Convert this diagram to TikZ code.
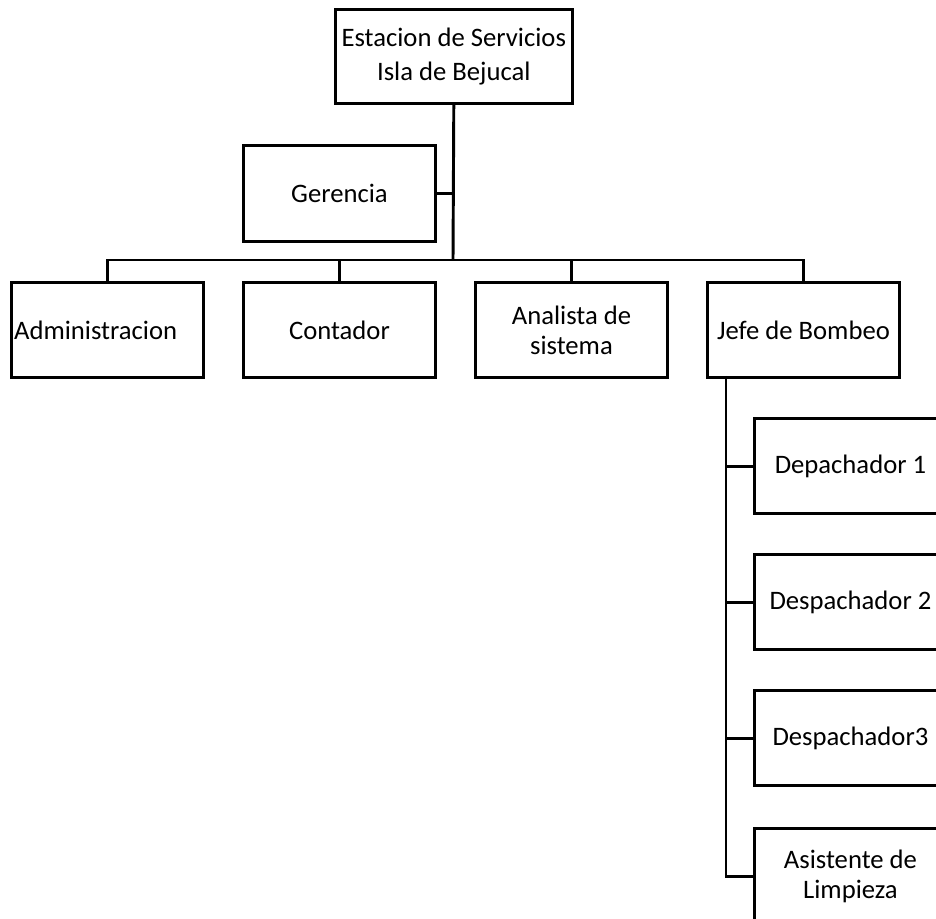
\documentclass[tikz,border=0pt]{standalone}
\usepackage{fontspec}
\setmainfont{Carlito}
\begin{document}
\begin{tikzpicture}[
    x=0.75pt, y=-0.75pt,
    font=\fontsize{20}{22.5}\selectfont,
    unit/.style={draw, line width=2.2pt, minimum width=144pt, minimum height=71.5pt,
      inner sep=2pt, align=center, anchor=north west},
    link/.style={line width=2.2pt}
  ]
  \useasboundingbox (0,0) rectangle (936,919);
  \clip (0,0) rectangle (936,919);
  % top of the chart
  \node [unit, minimum width=177.5pt, minimum height=70.5pt,
    font=\fontsize{20}{26}\selectfont] (est) at (334,8) {Estacion de Servicios\\Isla de Bejucal};
  \node [unit, minimum height=72pt] (ger) at (242,144) {Gerencia};
  % second row
  \node [unit, align=left, text width=140pt] (adm) at (10,281) {Administracion};
  \node [unit] (cont) at (242,281) {Contador};
  \node [unit] (anal) at (474,281) {Analista de\\sistema};
  \node [unit] (jefe) at (706,281) {Jefe de Bombeo};
  % under Jefe de Bombeo
  \node [unit] (desp1) at (753,417) {Depachador 1};
  \node [unit] (desp2) at (753,553) {Despachador 2};
  \node [unit] (desp3) at (753,689) {Despachador3};
  \node [unit] (asis) at (753,827) {Asistente de\\Limpieza};
  % connectors
  \coordinate (bar) at (453,260);
  \coordinate (jb) at (726,376);
  \draw [link] (est.south) -- (bar);
  \draw [link] (ger.east) -- (ger.east -| bar);
  \draw [link] (adm.north) |- (bar);
  \draw [link] (cont.north) |- (bar);
  \draw [link] (anal.north) |- (bar);
  \draw [link] (jefe.north) |- (bar);
  \draw [link] (jb) |- (asis.west);
  \draw [link] (desp1.west) -- (desp1.west -| jb);
  \draw [link] (desp2.west) -- (desp2.west -| jb);
  \draw [link] (desp3.west) -- (desp3.west -| jb);
\end{tikzpicture}
\end{document}
